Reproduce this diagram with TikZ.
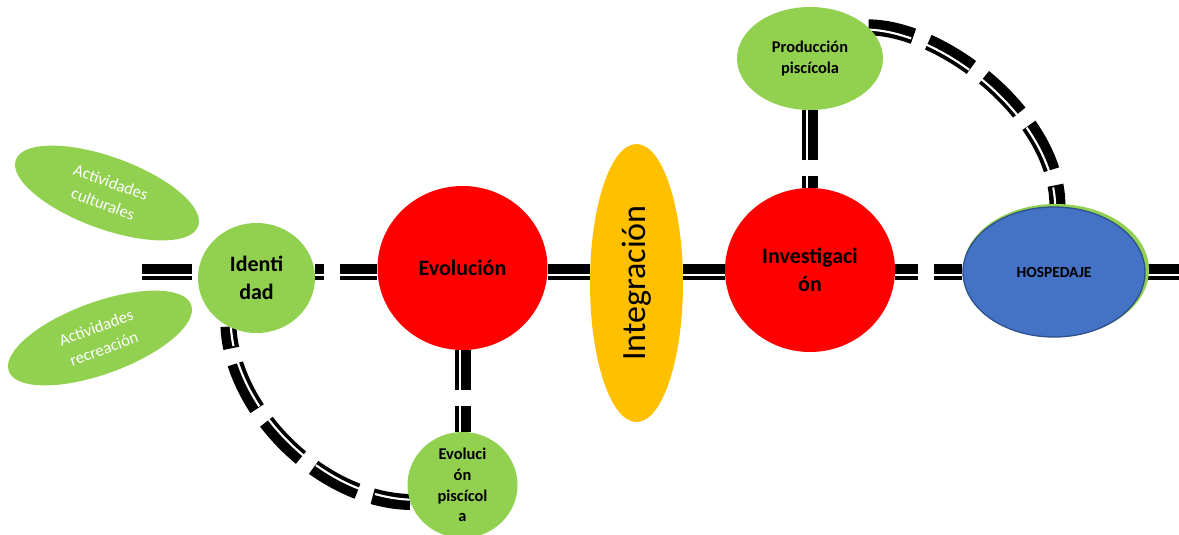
\documentclass[tikz,border=0pt]{standalone}
\usepackage{fontspec}
\setmainfont{Carlito}
\usetikzlibrary{shapes.geometric,backgrounds}
\definecolor{lgreen}{HTML}{92D050}
\definecolor{pred}{HTML}{FF0000}
\definecolor{porange}{HTML}{FFC000}
\definecolor{pblue}{HTML}{4472C4}
\definecolor{pblueline}{HTML}{2F528F}
\tikzset{
  blob/.style={ellipse, inner sep=-8pt, align=center},
  lblbig/.style={font=\fontsize{16.5}{21}\selectfont\bfseries},
  lblsmall/.style={font=\fontsize{12.3}{15.5}\selectfont\bfseries},
  lblact/.style={font=\fontsize{12.5}{17}\selectfont, text=white},
  lblinteg/.style={font=\fontsize{25.5}{30}\selectfont},
  lblhosp/.style={font=\fontsize{11.6}{14}\selectfont\bfseries},
  linkblack/.style={draw=black, line width=12pt, dash pattern=on 37.5pt off 12pt},
  linkwhite/.style={draw=white, line width=1.6pt, dash pattern=on 37.5pt off 12pt},
}
\newcommand{\linkpair}[3]{%
  \draw[linkblack, dash phase=#1] #3;
  \draw[linkwhite, dash phase=#1, transform canvas={#2}] #3;
}
\begin{document}
\begin{tikzpicture}[x=0.75pt,y=-0.75pt]
\useasboundingbox (0,0) rectangle (1179,535);
% nodes
\node[blob, fill=lgreen, rotate=-20, minimum width=145.5pt, minimum height=54pt, lblact] (cult) at (107,193) {Actividades\\culturales};
\node[blob, fill=lgreen, rotate=20, minimum width=145.5pt, minimum height=54pt, lblact] (recr) at (100,338) {Actividades\\recreación};
\node[blob, fill=lgreen, minimum width=87.75pt, minimum height=82.5pt, lblbig] (ident) at (256.5,278) {Identi\\dad};
\node[blob, fill=pred, minimum width=127.5pt, minimum height=123pt, lblbig] (evol) at (462.5,268) {Evolución};
\node[blob, fill=porange, rotate=90, minimum width=208.5pt, minimum height=69.75pt, lblinteg] (integ) at (636.5,283) {Integración};
\node[blob, fill=pred, minimum width=127.5pt, minimum height=123pt, lblbig] (inv) at (810,270) {Investigaci\\ón};
\node[blob, fill=lgreen, minimum width=139.5pt, minimum height=99pt] (hospbg) at (1056,270) {};
\node[blob, fill=pblue, draw=pblueline, line width=1pt, minimum width=136.5pt, minimum height=97.5pt, lblhosp] (hosp) at (1054,272) {HOSPEDAJE};
\node[blob, fill=lgreen, minimum width=109.5pt, minimum height=77.25pt, lblsmall] (prod) at (810,58.5) {Producción\\piscícola};
\node[blob, fill=lgreen, inner sep=-12pt, minimum width=82.5pt, minimum height=79.5pt, lblsmall] (evp) at (462.5,485) {Evoluci\\ón\\piscícol\\a};
\coordinate (L) at (142,272);
\coordinate (R) at (1182,272);
% connectors
\begin{scope}[on background layer]
\fill[white] (0,0) rectangle (1179,535);
\linkpair{0pt}{yshift=-2.2pt}{(L) -- (L -| ident.west)}
\linkpair{30.75pt}{yshift=-2.2pt}{(ident.east |- L) -- (L -| evol.west)}
\linkpair{0pt}{yshift=-2.2pt}{(evol.east |- L) -- (L -| integ.north)}
\linkpair{0pt}{yshift=-2.2pt}{(integ.south |- L) -- (L -| inv.west)}
\linkpair{20.25pt}{yshift=-2.2pt}{(inv.east |- L) -- (L -| hosp.west)}
\linkpair{0pt}{yshift=-2.2pt}{(hosp.east |- R) -- (R)}
\linkpair{7.5pt}{xshift=-2.2pt}{(evol.south) -- (evp.north)}
\linkpair{0pt}{xshift=-2.2pt}{(prod.south) -- (inv.north)}
\linkpair{21pt}{shift={(1.7pt,1.7pt)}}{(ident.240) .. controls (232,410) and (320,500) .. (evp.198)}
\linkpair{3pt}{shift={(-1.7pt,-1.7pt)}}{(prod.28) .. controls (945,28) and (1058,118) .. (hosp.87)}
\end{scope}
\end{tikzpicture}
\end{document}
